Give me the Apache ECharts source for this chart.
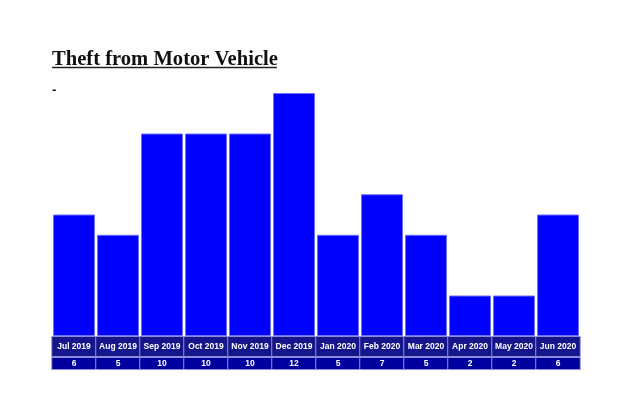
<!DOCTYPE html>
<html><head><meta charset="utf-8">
<script src="https://cdn.jsdelivr.net/npm/echarts@6/dist/echarts.min.js"></script>
<style>html,body{margin:0;padding:0;background:#fff}#c{width:634px;height:395px}</style>
</head><body><div id="c"></div>
<script>
var titleText = 'Theft from Motor Vehicle';
var months = ['Jul 2019','Aug 2019','Sep 2019','Oct 2019','Nov 2019','Dec 2019','Jan 2020','Feb 2020','Mar 2020','Apr 2020','May 2020','Jun 2020'];
var counts = [6,5,10,10,10,12,5,7,5,2,2,6];

var chart = echarts.init(document.getElementById('c'), null, {renderer:'canvas'});
var cellBase = {interval:0, margin:1, color:'#fff', fontWeight:'bold', fontSize:8.5,
  fontFamily:'Liberation Sans, Arial, sans-serif', width:43.5, align:'center',
  borderColor:'#8c8cd8', borderWidth:1};
chart.setOption({
  animation:false,
  backgroundColor:'#fff',
  title:{text:titleText, subtext:'-', left:47, top:44, itemGap:14,
    textStyle:{fontFamily:'Liberation Serif, Times New Roman, serif', fontWeight:'bold', fontSize:20.6, color:'#111'},
    subtextStyle:{fontFamily:'Liberation Sans, Arial, sans-serif', fontSize:13, fontWeight:'bold', color:'#111'}},
  graphic:[{type:'line', shape:{x1:52,y1:67.5,x2:277,y2:67.5}, style:{stroke:'#222', lineWidth:1.5}}],
  grid:{left:52, right:54, top:93, bottom:59},
  xAxis:[
    {type:'category', data:months, position:'bottom', axisLine:{show:false}, axisTick:{show:false},
     axisLabel:Object.assign({}, cellBase, {height:19, lineHeight:19, backgroundColor:'#15158c'})},
    {type:'category', data:months, position:'bottom', offset:21, axisLine:{show:false}, axisTick:{show:false},
     axisLabel:Object.assign({}, cellBase, {height:11, lineHeight:11, backgroundColor:'#00009e',
       formatter:function(v,i){return String(counts[i]);}})}
  ],
  yAxis:{type:'value', min:0, max:12, show:false},
  series:[{type:'bar', data:counts, barWidth:42, xAxisIndex:0,
    itemStyle:{color:'#0000ff', borderColor:'#7070ff', borderWidth:1}}]
});
</script></body></html>
